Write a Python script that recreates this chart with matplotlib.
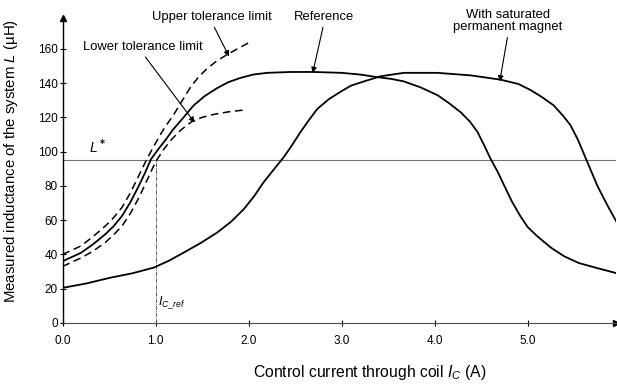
import matplotlib
matplotlib.use("Agg")
import matplotlib.pyplot as plt

plt.rcParams["font.family"] = ["Liberation Sans", "DejaVu Sans"]
plt.rcParams["mathtext.fontset"] = "custom"
plt.rcParams["mathtext.it"] = "Liberation Sans:italic"
plt.rcParams["mathtext.rm"] = "Liberation Sans"

# values
ref_x = [0.0, 0.1, 0.2, 0.33, 0.46, 0.55, 0.64, 0.73, 0.82, 0.89, 0.95, 1.03, 1.11,
         1.19, 1.27, 1.34, 1.41, 1.53, 1.66, 1.78, 1.91, 2.05, 2.2, 2.45, 2.7, 3.0,
         3.2, 3.38, 3.53, 3.67, 3.85, 4.03, 4.15, 4.28, 4.38, 4.46, 4.53, 4.6, 4.68,
         4.75, 4.83, 4.92, 5.0, 5.1, 5.25, 5.39, 5.55, 5.75, 5.96]
ref_y = [36, 38.5, 41, 46, 51.8, 56.5, 62.5, 70.5, 80, 88, 95.5, 101.5, 107,
         113, 118, 122.5, 127, 132.5, 137, 140.5, 143, 145, 146, 146.5, 146.5, 146,
         145, 143.5, 142.5, 141, 137.5, 133, 128.5, 123, 117.5, 111.6, 104, 96, 88,
         80, 71, 62.5, 56, 50.8, 44, 39, 35, 32, 29]

upper_x = [0.0, 0.1, 0.2, 0.33, 0.46, 0.55, 0.64, 0.73, 0.82, 0.91, 0.99, 1.07, 1.13,
           1.2, 1.29, 1.38, 1.47, 1.56, 1.66, 1.77, 1.88, 2.0]
upper_y = [40, 42.5, 45, 50.5, 56.6, 61.5, 67.5, 76, 86, 96, 104, 111.6, 116.5,
           122, 130, 138, 144, 148.8, 153, 156.7, 160, 163.5]

lower_x = [0.0, 0.1, 0.2, 0.33, 0.46, 0.55, 0.64, 0.73, 0.82, 0.91, 1.0, 1.09, 1.18,
           1.28, 1.39, 1.5, 1.63, 1.78, 1.95]
lower_y = [33, 35.5, 38, 42, 47, 51.5, 56.6, 64, 73, 83.5, 94, 101.5, 107.6,
           113, 117.5, 120, 121.8, 123.2, 124.3]

sat_x = [0.0, 0.25, 0.52, 0.75, 0.98, 1.15, 1.3, 1.48, 1.66, 1.81, 1.95, 2.06, 2.16,
         2.27, 2.38, 2.47, 2.56, 2.65, 2.74, 2.86, 2.99, 3.1, 3.24, 3.42, 3.67, 4.03,
         4.39, 4.71, 4.9, 5.03, 5.15, 5.28, 5.38, 5.46, 5.54, 5.61, 5.68, 5.75, 5.86,
         5.96]
sat_y = [20.5, 23, 26.5, 29, 32.3, 36.5, 41, 46.5, 52.7, 59, 66.5, 74, 82,
         89.5, 96.9, 104, 111.6, 118.5, 125, 130.5, 135, 138.5, 141, 144, 146, 146,
         144.5, 142, 139.5, 136, 132, 127, 121, 115.5, 107, 98, 89, 80, 68.4,
         58.6]

L_star = 95
I_ref = 1.0

x_ticks = [0, 1, 2, 3, 4, 5]
y_ticks = [0, 20, 40, 60, 80, 100, 120, 140, 160]


def main():
    fig = plt.figure(figsize=(6.17, 3.89), dpi=100)
    ax = fig.add_axes([0.1013, 0.1697, 0.8971, 0.784])

    ax.axhline(L_star, color="0.45", lw=0.8)
    ax.plot([I_ref, I_ref], [0, L_star], color="0.35", lw=0.7, ls=(0, (4, 1, 1, 1)))

    ax.plot(ref_x, ref_y, color="black", lw=1.3)
    ax.plot(sat_x, sat_y, color="black", lw=1.3)
    ax.plot(upper_x, upper_y, color="black", lw=1.1, ls=(0, (5, 3)))
    ax.plot(lower_x, lower_y, color="black", lw=1.1, ls=(0, (5, 3)))

    ax.set_xlim(0, 5.95)
    ax.set_ylim(0, 178)

    for s in ["top", "right"]:
        ax.spines[s].set_visible(False)
    ax.spines["left"].set_linewidth(1.0)
    ax.spines["bottom"].set_color("0.3")
    ax.plot(1, 0, ">", color="black", ms=5, transform=ax.get_yaxis_transform(), clip_on=False)
    ax.plot(0, 1, "^", color="black", ms=5, transform=ax.get_xaxis_transform(), clip_on=False)

    ax.set_xticks(x_ticks)
    ax.set_xticklabels([f"{v:.1f}" for v in x_ticks])
    ax.set_yticks(y_ticks)
    ax.tick_params(axis="both", direction="inout", length=5, width=0.8, labelsize=8.5)
    ax.tick_params(axis="x", pad=6)
    ax.tick_params(axis="y", pad=1)

    ax.set_xlabel(r"Control current through coil $I_C$ (A)", fontsize=11.3)
    ax.xaxis.set_label_coords(0.555, -0.132)
    ax.set_ylabel(r"Measured inductance of the system $L$ (µH)", fontsize=10.8)
    ax.yaxis.set_label_coords(-0.077, 0.53)

    ax.text(0.28, 99, r"$L^{\bf *}$", fontsize=10)
    ax.text(1.03, 10.5, r"$I_{C\_ref}$", fontsize=9)

    arrow = dict(arrowstyle="-|>", color="black", lw=0.8, mutation_scale=8, shrinkA=1, shrinkB=0)
    fs = 9.4
    ax.annotate("Upper tolerance limit", xy=(1.79, 155.6), xytext=(1.61, 178.5),
                ha="center", va="center", fontsize=fs, annotation_clip=False,
                arrowprops=dict(arrow, relpos=(0.5, 0)))
    ax.annotate("Lower tolerance limit", xy=(1.42, 117), xytext=(0.86, 161),
                ha="center", va="center", fontsize=fs, annotation_clip=False,
                arrowprops=dict(arrow, relpos=(0.5, 0)))
    ax.annotate("Reference", xy=(2.69, 146), xytext=(2.81, 178.5),
                ha="center", va="center", fontsize=fs, annotation_clip=False,
                arrowprops=dict(arrow, relpos=(0.5, 0)))
    ax.annotate("With saturated\npermanent magnet", xy=(4.70, 141), xytext=(4.79, 176),
                ha="center", va="center", fontsize=fs, annotation_clip=False,
                linespacing=1.0, arrowprops=dict(arrow, relpos=(0.5, 0)))

    fig.savefig("out.png", dpi=100)


if __name__ == "__main__":
    main()
